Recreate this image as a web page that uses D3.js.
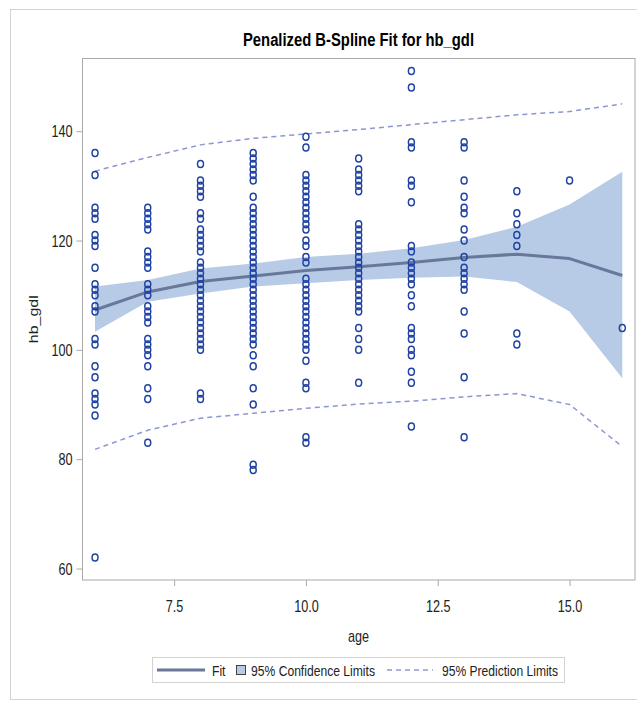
<!DOCTYPE html>
<html>
<head>
<meta charset="utf-8">
<script src="https://cdn.jsdelivr.net/npm/d3@7"></script>
<style>
  html, body { margin: 0; padding: 0; background: #fff; }
  text { font-family: "Liberation Sans", Arial, sans-serif; }
</style>
</head>
<body>
<svg id="chart" width="637" height="704"></svg>
<script>
// ---- data ----
const ages = [6, 7, 8, 9, 10, 11, 12, 13, 14, 15, 16];
const hbAge6  = [136,132,126,125,124,121,120,119,115,112,111,110,108,107,102,101,97,95,92,91,90,88,62];
const hbAge7  = [126,125,124,123,122,118,117,116,115,112,111,110,108,107,106,105,102,101,100,99,97,93,91,83];
const hbAge8  = [134,131,130,129,128,125,124,122,121,120,119,118,116,115,114,113,112,111,110,109,108,107,106,105,104,103,102,101,100,92,91];
const hbAge9  = [136,135,134,133,132,131,128,126,125,124,123,122,121,120,119,118,117,116,115,114,113,112,111,110,109,108,107,106,105,104,103,102,101,99,97,93,90,79,78];
const hbAge10 = [139,137,132,131,130,129,128,127,126,125,124,123,122,120,119,117,116,113,112,111,110,109,108,107,106,105,104,103,102,101,100,98,94,93,84,83];
const hbAge11 = [135,133,132,131,130,129,123,122,121,120,119,118,117,116,115,114,113,112,111,110,109,108,107,104,102,100,94];
const hbAge12 = [151,148,138,137,131,130,127,119,118,116,115,114,113,112,110,108,104,103,102,100,99,96,94,86];
const hbAge13 = [138,137,131,128,126,125,122,120,117,115,114,113,112,111,107,103,95,84];
const hbAge14 = [129,125,123,121,119,103,101];
const hbAge15 = [131];
const hbAge16 = [104];
const hbByAge = [hbAge6, hbAge7, hbAge8, hbAge9, hbAge10, hbAge11, hbAge12, hbAge13, hbAge14, hbAge15, hbAge16];

const fitValues = [107.3,110.6,112.5,113.5,114.5,115.2,116.0,116.9,117.5,116.7,113.6];
const clmUpper  = [111.6,112.8,114.9,115.8,117.0,117.6,118.6,120.1,122.5,126.6,132.6];
const clmLower  = [103.3,108.8,110.3,111.6,112.2,112.8,113.2,113.4,112.4,107.0,94.8];
const pUpper    = [132.7,135.2,137.5,138.7,139.5,140.3,141.2,142.1,143.0,143.6,145.0];
const pLower    = [81.8,85.3,87.5,88.4,89.3,90.1,90.6,91.4,92.0,90.0,82.3];

const xTicks = [7.5, 10.0, 12.5, 15.0];
const yTicks = [60, 80, 100, 120, 140];

const titleText = "Penalized B-Spline Fit for hb_gdl";
const xLabel = "age";
const yLabel = "hb_gdl";
const legendLabels = ["Fit", "95% Confidence Limits", "95% Prediction Limits"];

// ---- styles ----
const C = {
  band: "#b7cbe6",
  fit: "#68789a",
  pred: "#8c96d2",
  marker: "#1f42a4",
  frame: "#a9a9a9",
  outer: "#d3d3d3",
  text: "#222"
};
const SX = 0.79; // horizontal text compression

const svg = d3.select("#chart");
svg.append("rect").attr("width", 637).attr("height", 704).attr("fill", "#fff");
// outer graph border
svg.append("rect").attr("x", 10.5).attr("y", 9.5).attr("width", 640).attr("height", 690)
  .attr("fill", "none").attr("stroke", C.outer);

const L = 82, R = 635, T = 58.5, B = 580;
const x = d3.scaleLinear().domain([5.753, 16.241]).range([L, R]);
const y = d3.scaleLinear().domain([57.9, 153.3]).range([B, T]);

const rows = ages.map((a, i) => ({ age: a, fit: fitValues[i], lo: clmLower[i], hi: clmUpper[i], plo: pLower[i], phi: pUpper[i] }));

const g = svg.append("g");

// band
g.append("path").datum(rows)
  .attr("d", d3.area().x(d => x(d.age)).y0(d => y(d.lo)).y1(d => y(d.hi)))
  .attr("fill", C.band).attr("stroke", "none");

// fit line
g.append("path").datum(rows)
  .attr("d", d3.line().x(d => x(d.age)).y(d => y(d.fit)))
  .attr("fill", "none").attr("stroke", C.fit).attr("stroke-width", 3)
  .attr("stroke-linejoin", "round");

// prediction limits
["plo", "phi"].forEach(k => {
  g.append("path").datum(rows)
    .attr("d", d3.line().x(d => x(d.age)).y(d => y(d[k])))
    .attr("fill", "none").attr("stroke", C.pred).attr("stroke-width", 1.5)
    .attr("stroke-dasharray", "5,4");
});

// points
const pts = [];
ages.forEach((a, i) => hbByAge[i].forEach(v => pts.push({ age: a, v })));
g.selectAll("ellipse.pt").data(pts).enter().append("ellipse")
  .attr("class", "pt")
  .attr("cx", d => x(d.age)).attr("cy", d => y(d.v))
  .attr("rx", 3.0).attr("ry", 3.5)
  .attr("fill", "none").attr("stroke", C.marker).attr("stroke-width", 1.5);

// frame
svg.append("rect").attr("x", L + 0.5).attr("y", T).attr("width", R - L - 0.5).attr("height", B - T)
  .attr("fill", "none").attr("stroke", C.frame);

// axes
const yAxis = svg.append("g").attr("transform", `translate(${L + 0.5},0)`)
  .call(d3.axisLeft(y).tickValues(yTicks).tickSize(6).tickFormat(d3.format("d")));
const xAxis = svg.append("g").attr("transform", `translate(0,${B})`)
  .call(d3.axisBottom(x).tickValues(xTicks).tickSize(6).tickFormat(d3.format(".1f")));
[yAxis, xAxis].forEach(ax => {
  ax.select(".domain").remove();
  ax.selectAll(".tick line").attr("stroke", C.frame);
  ax.selectAll(".tick text").attr("fill", C.text).style("font-size", "16px")
    .style("font-family", "'Liberation Sans', Arial, sans-serif");
});
yAxis.selectAll(".tick text").attr("x", null).attr("dy", "0.36em")
  .attr("text-anchor", "end").attr("transform", `translate(-10,0) scale(${SX},1)`);
xAxis.selectAll(".tick text").attr("y", null).attr("dy", null)
  .attr("text-anchor", "middle").attr("transform", `translate(0,32) scale(${SX},1)`);

// title
svg.append("text").attr("x", (L + R) / 2).attr("y", 46).attr("text-anchor", "middle")
  .style("font-size", "18px").style("font-weight", "bold").attr("fill", "#000")
  .attr("textLength", 231).attr("lengthAdjust", "spacingAndGlyphs")
  .text(titleText);

// axis labels
svg.append("text").attr("text-anchor", "middle")
  .attr("transform", `translate(${(L + R) / 2},642) scale(${SX},1)`)
  .style("font-size", "16px").attr("fill", C.text).text(xLabel);
svg.append("text").attr("text-anchor", "middle")
  .attr("transform", `translate(38,${(T + B) / 2}) rotate(-90) scale(1,${SX})`)
  .style("font-size", "16px").attr("fill", C.text).text(yLabel);

// legend
const lg = svg.append("g");
lg.append("rect").attr("x", 152.5).attr("y", 657.5).attr("width", 412).attr("height", 25)
  .attr("fill", "#fff").attr("stroke", C.outer);
lg.append("line").attr("x1", 157).attr("x2", 205).attr("y1", 670).attr("y2", 670)
  .attr("stroke", C.fit).attr("stroke-width", 3);
lg.append("text").attr("x", 212).attr("y", 675.5).style("font-size", "15.5px").attr("fill", C.text)
  .attr("textLength", 13.5).attr("lengthAdjust", "spacingAndGlyphs").text(legendLabels[0]);
lg.append("rect").attr("x", 236.5).attr("y", 665.5).attr("width", 9).attr("height", 9)
  .attr("fill", C.band).attr("stroke", "#444").attr("stroke-width", 1);
lg.append("text").attr("x", 251).attr("y", 675.5).style("font-size", "15.5px").attr("fill", C.text)
  .attr("textLength", 124).attr("lengthAdjust", "spacingAndGlyphs").text(legendLabels[1]);
lg.append("line").attr("x1", 387).attr("x2", 433).attr("y1", 670).attr("y2", 670)
  .attr("stroke", C.pred).attr("stroke-width", 1.5).attr("stroke-dasharray", "5,4");
lg.append("text").attr("x", 442).attr("y", 675.5).style("font-size", "15.5px").attr("fill", C.text)
  .attr("textLength", 116).attr("lengthAdjust", "spacingAndGlyphs").text(legendLabels[2]);
</script>
</body>
</html>
